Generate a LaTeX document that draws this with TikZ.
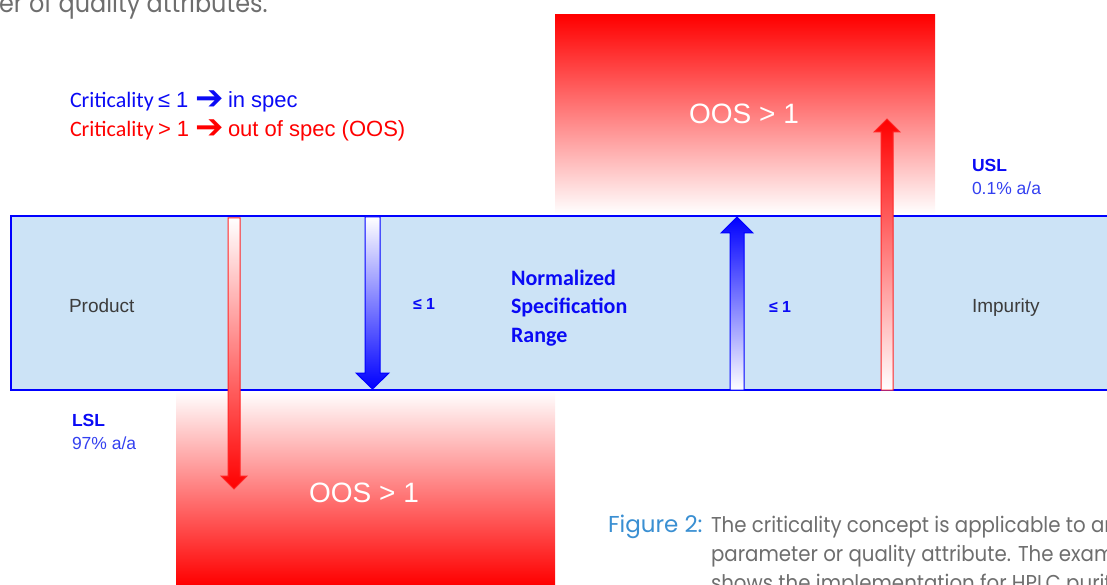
\documentclass[tikz,border=0pt]{standalone}
\usepackage{fontspec}
\setmainfont{Liberation Sans}
\newfontfamily\calfont{Carlito}
\newfontfamily\djfont{DejaVu Sans}
\newfontfamily\futfont{Poppins}
\newfontfamily\futnarrow[FakeStretch=0.92]{Poppins}
\definecolor{bandfill}{HTML}{CCE3F6}
\definecolor{myblue}{HTML}{0A0AF5}
\definecolor{lightblue}{HTML}{3340F0}
\definecolor{myred}{HTML}{FF0000}
\definecolor{capgray}{HTML}{6E6E6E}
\definecolor{capblue}{HTML}{3A8FD2}
\definecolor{txtgray}{HTML}{3C3C3C}
\begin{document}
\begin{tikzpicture}[x=1pt,y=-1pt,inner sep=0pt,outer sep=0pt,
  oos/.style={anchor=base,text=white,font=\fontsize{28}{30}\selectfont},
  bandtxt/.style={anchor=base west,text=txtgray,font=\fontsize{19}{21}\selectfont},
  leq/.style={anchor=base west,text=myblue,font=\bfseries\fontsize{16}{18}\selectfont},
  crit/.style={anchor=base west,font=\calfont\fontsize{22}{24}\selectfont},
  helv/.style={anchor=base west,font=\fontsize{22}{24}\selectfont},
  arrowglyph/.style={anchor=base,text height=16pt,text depth=0pt,font=\djfont\bfseries\fontsize{34}{36}\selectfont},
  limtitle/.style={anchor=base west,text=myblue,font=\bfseries\fontsize{17.5}{19}\selectfont},
  limval/.style={anchor=base west,text=lightblue,font=\fontsize{17.5}{19}\selectfont},
  nsr/.style={anchor=base west,text=myblue,font=\calfont\bfseries\fontsize{22}{24}\selectfont},
  captxt/.style={anchor=base west,text=capgray,font=\futnarrow\fontsize{21.5}{23}\selectfont},
  bodytxt/.style={anchor=base west,text=capgray,font=\futnarrow\fontsize{26}{28}\selectfont},
  redarrow/.style={draw=red!85,line width=1pt},
  bluearrow/.style={draw=blue,line width=1pt}]
\useasboundingbox (0,0) rectangle (1107,585);
\clip (0,0) rectangle (1107,585);

% out-of-spec boxes
\shade[top color=myred,bottom color=white] (555,15) rectangle (935,214);
\shade[top color=white,bottom color=myred] (176,391) rectangle (555,585);

% normalized specification band
\draw[blue,line width=1.5pt,fill=bandfill] (11,216) rectangle (1120,390);

% arrows
\shadedraw[redarrow,top color=white,middle color=white,bottom color=myred]
  (228,218) -- (240,218) -- (240,476) -- (247,476) -- (234,489) -- (221,476) -- (228,476) -- cycle;
\shadedraw[bluearrow,top color=white,bottom color=blue]
  (365,217) -- (380,217) -- (380,373) -- (389,373) -- (372.5,389) -- (356,373) -- (365,373) -- cycle;
\shadedraw[bluearrow,top color=blue,bottom color=white]
  (730,390) -- (744,390) -- (744,233) -- (753,233) -- (737,217) -- (721,233) -- (730,233) -- cycle;
\shadedraw[redarrow,top color=myred,middle color=white,bottom color=white]
  (881,390) -- (893,390) -- (893,132) -- (900,132) -- (887,119) -- (874,132) -- (881,132) -- cycle;

% texts
\node[oos] (oostop) at (744,124) {OOS > 1};
\node[oos] (oosbot) at (364,502) {OOS > 1};
\node[bandtxt] (product) at (69,312) {Product};
\node[bandtxt] (impurity) at (972,312) {Impurity};
\node[leq] (leqa) at (413,309) {≤ 1};
\node[leq] (leqb) at (769,312) {≤ 1};
\node[nsr] (nsra) at (511,285) {Normalized};
\node[nsr] (nsrb) at (511,313) {Specification};
\node[nsr] (nsrc) at (511,342) {Range};

\node[limtitle] (usl) at (972,172) {USL};
\node[limval] (uslv) at (972,195) {0.1\% a/a};
\node[limtitle] (lsl) at (72,426) {LSL};
\node[limval] (lslv) at (72,449) {97\% a/a};

\node[crit,text=myblue] (crita) at (70,108) {Criticality};
\node[helv,text=myblue] (leqc) at (158,108) {≤ 1};
\node[arrowglyph,text=myblue] (arra) at (210,110) {➔};
\node[helv,text=myblue] (inspec) at (228,108) {in spec};
\node[crit,text=myred] (critb) at (70,137) {Criticality};
\node[helv,text=myred] (gtc) at (158,137) {> 1};
\node[arrowglyph,text=myred] (arrb) at (210,139) {➔};
\node[helv,text=myred] (outspec) at (228,137) {out of spec (OOS)};

% surrounding page text
\node[bodytxt] (toptext) at (-1,13) {er of quality attributes.};
\node[captxt,text=capblue,font=\futfont\fontsize{23}{25}\selectfont] (figlbl) at (608,532) {Figure 2:};
\node[captxt] (capa) at (711,532) {The criticality concept is applicable to any};
\node[captxt] (capb) at (711,561) {parameter or quality attribute. The example};
\node[captxt] (capc) at (711,590) {shows the implementation for HPLC purity};
\end{tikzpicture}
\end{document}
